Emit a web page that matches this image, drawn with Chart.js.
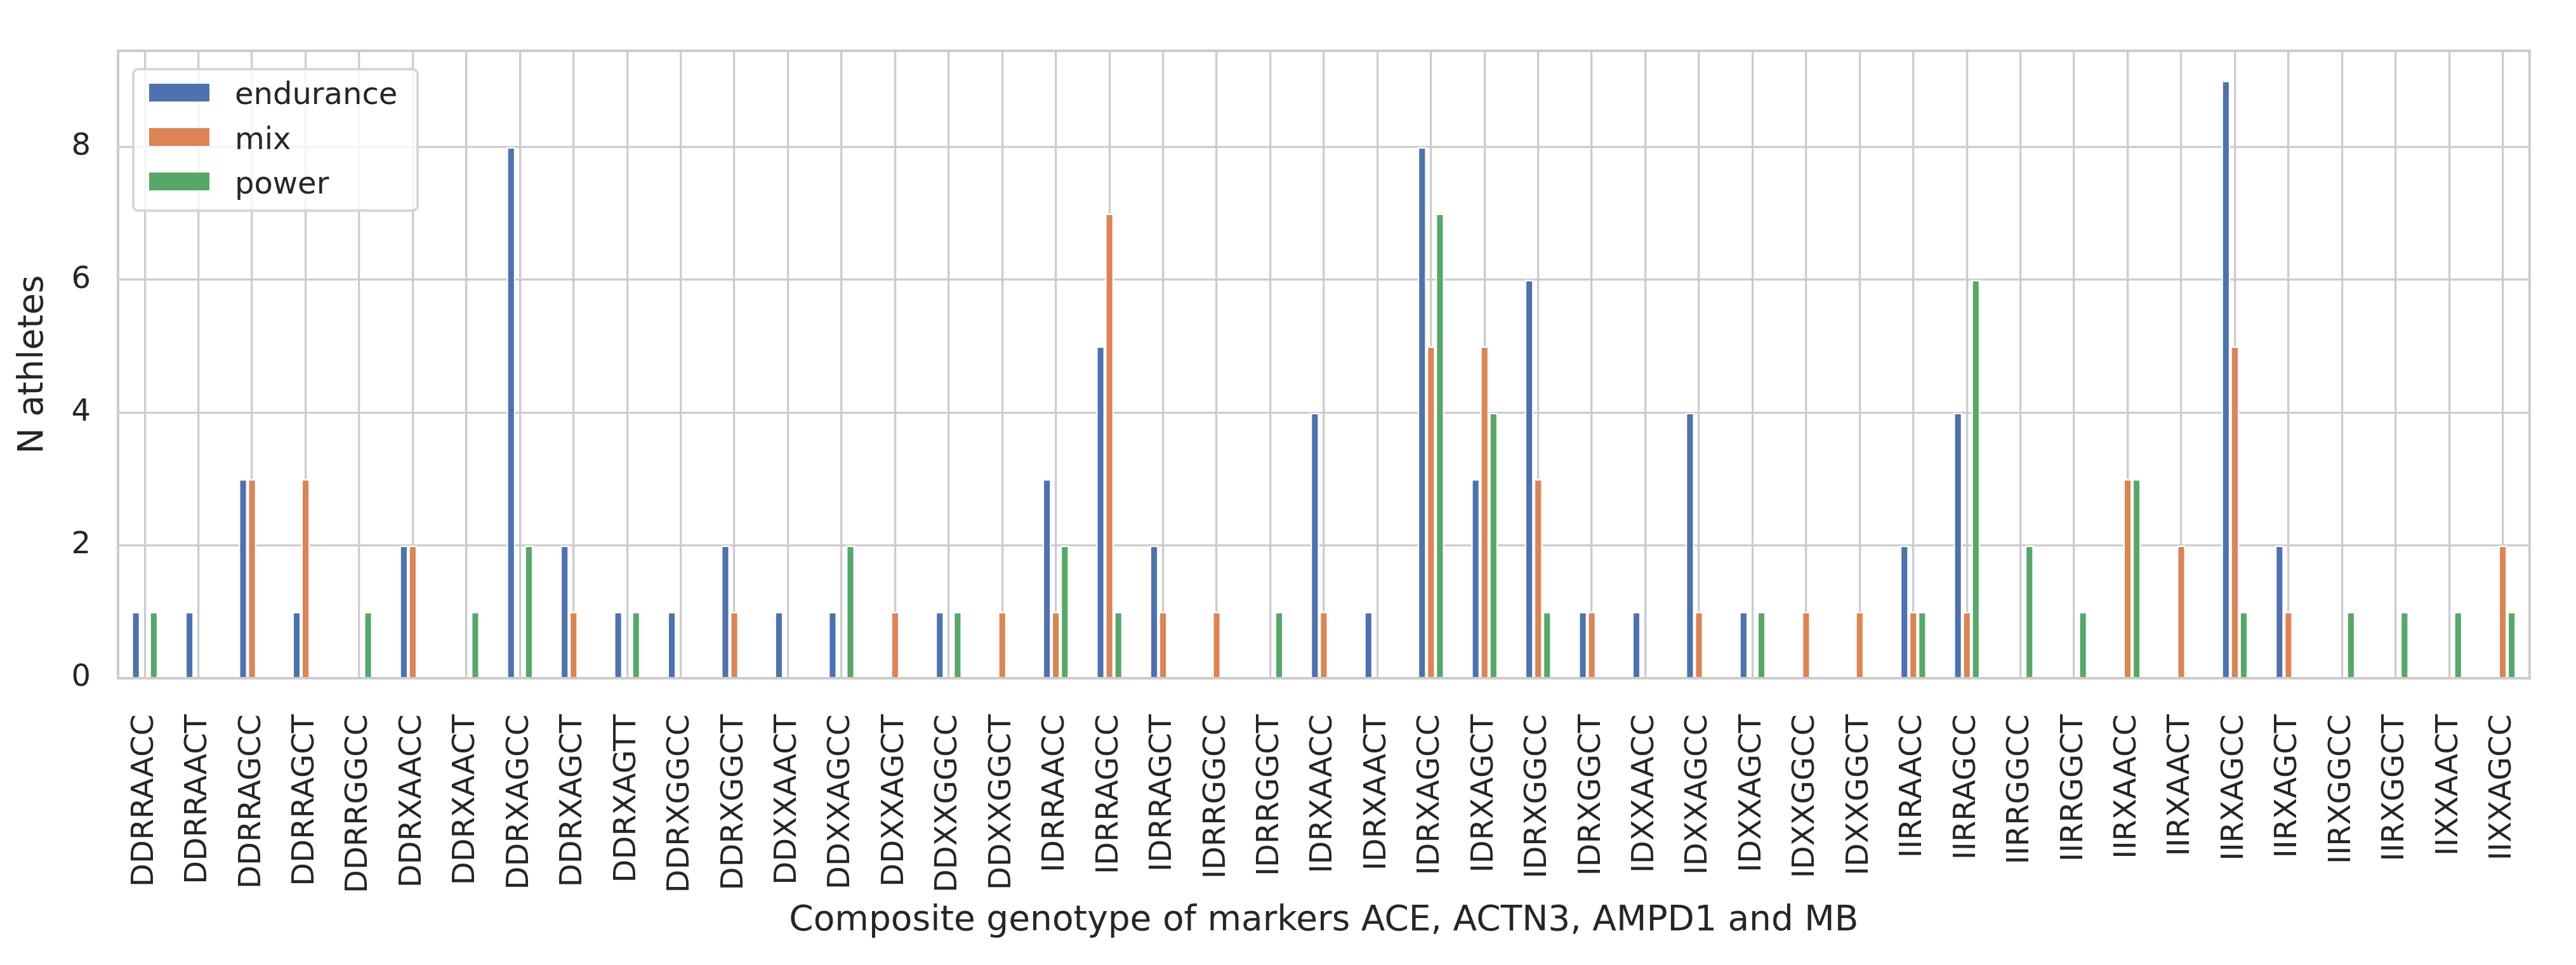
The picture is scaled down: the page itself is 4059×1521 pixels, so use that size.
<!DOCTYPE html>
<html>
<head>
<meta charset="utf-8">
<script src="https://cdn.jsdelivr.net/npm/chart.js@4.4.1/dist/chart.umd.min.js"></script>
<style>
html,body{margin:0;padding:0;background:#fff;}
#wrap{position:relative;width:4059px;height:1521px;}
#legend{position:absolute;left:208px;top:107px;width:452px;height:227px;box-sizing:border-box;border:4px solid #d6d6d6;border-radius:10px;background:rgba(255,255,255,0.8);font-family:"DejaVu Sans";font-size:48px;color:#262626;}
.sw{position:absolute;left:23px;width:95px;height:28px;}
.lt{position:absolute;left:158px;line-height:1;white-space:nowrap;}
</style>
</head>
<body>
<div id="wrap">
<canvas id="c" width="4059" height="1521"></canvas>
<div id="legend"></div>
</div>
<script>
const categories = ["DDRRAACC","DDRRAACT","DDRRAGCC","DDRRAGCT","DDRRGGCC","DDRXAACC","DDRXAACT","DDRXAGCC","DDRXAGCT","DDRXAGTT","DDRXGGCC","DDRXGGCT","DDXXAACT","DDXXAGCC","DDXXAGCT","DDXXGGCC","DDXXGGCT","IDRRAACC","IDRRAGCC","IDRRAGCT","IDRRGGCC","IDRRGGCT","IDRXAACC","IDRXAACT","IDRXAGCC","IDRXAGCT","IDRXGGCC","IDRXGGCT","IDXXAACC","IDXXAGCC","IDXXAGCT","IDXXGGCC","IDXXGGCT","IIRRAACC","IIRRAGCC","IIRRGGCC","IIRRGGCT","IIRXAACC","IIRXAACT","IIRXAGCC","IIRXAGCT","IIRXGGCC","IIRXGGCT","IIXXAACT","IIXXAGCC"];
const endurance = [1,1,3,1,0,2,0,8,2,1,1,2,1,1,0,1,0,3,5,2,0,0,4,1,8,3,6,1,1,4,1,0,0,2,4,0,0,0,0,9,2,0,0,0,0];
const mix       = [0,0,3,3,0,2,0,0,1,0,0,1,0,0,1,0,1,1,7,1,1,0,1,0,5,5,3,1,0,1,0,1,1,1,1,0,0,3,2,5,1,0,0,0,2];
const power     = [1,0,0,0,1,0,1,2,0,1,0,0,0,2,0,1,0,2,1,0,0,1,0,0,7,4,1,0,0,0,1,0,0,1,6,2,1,3,0,1,0,1,1,1,1];
const yTicks = [0,2,4,6,8];
const seriesNames = ["endurance","mix","power"];
const seriesColors = ["#4C72B0","#DD8452","#55A868"];
const xTitle = "Composite genotype of markers ACE, ACTN3, AMPD1 and MB";
const yTitle = "N athletes";

const seriesData = [endurance, mix, power];

// legend (HTML, real text)
const leg = document.getElementById('legend');
seriesNames.forEach((n, i) => {
  const sw = document.createElement('div');
  sw.className = 'sw';
  sw.style.top = (21 + 70 * i) + 'px';
  sw.style.background = seriesColors[i];
  leg.appendChild(sw);
  const t = document.createElement('div');
  t.className = 'lt';
  t.style.top = (12 + 70.5 * i) + 'px';
  t.textContent = n;
  leg.appendChild(t);
});

const framePlugin = {
  id: 'frame',
  afterDatasetsDraw(chart) {
    const {ctx, chartArea: a} = chart;
    ctx.save();
    ctx.strokeStyle = '#cccccc';
    ctx.lineWidth = 4;
    ctx.strokeRect(a.left, a.top, a.right - a.left, a.bottom - a.top);
    ctx.restore();
  }
};

const font = 'DejaVu Sans';
new Chart(document.getElementById('c'), {
  type: 'bar',
  data: {
    labels: categories,
    datasets: seriesNames.map((n, i) => ({
      label: n,
      data: seriesData[i],
      backgroundColor: seriesColors[i],
      borderColor: '#ffffff',
      borderWidth: 2.5,
      categoryPercentage: 0.5,
      barPercentage: 1.0
    }))
  },
  options: {
    responsive: false,
    animation: false,
    devicePixelRatio: 1,
    layout: {padding: {top: 80, right: 70, left: 0, bottom: 0}},
    plugins: {legend: {display: false}, tooltip: {enabled: false}},
    scales: {
      x: {
        offset: true,
        grid: {offset: false, color: '#cccccc', lineWidth: 3.3, drawTicks: false},
        border: {display: false},
        ticks: {autoSkip: false, minRotation: 90, maxRotation: 90, padding: 57, color: '#262626', font: {family: font, size: 48}},
        title: {display: true, text: xTitle, color: '#262626', font: {family: font, size: 55}, padding: {top: 0, bottom: 36}},
        afterFit(s) { s.height = 452; }
      },
      y: {
        min: 0, max: 9.45,
        grid: {color: '#cccccc', lineWidth: 3.3, drawTicks: false},
        border: {display: false},
        ticks: {padding: 43, color: '#262626', font: {family: font, size: 48}},
        afterBuildTicks(s) { s.ticks = yTicks.map(v => ({value: v})); },
        title: {display: true, text: yTitle, color: '#262626', font: {family: font, size: 55}, padding: {top: 20, bottom: 0}},
        afterFit(s) { s.width = 186; }
      }
    }
  },
  plugins: [framePlugin]
});
</script>
</body>
</html>
